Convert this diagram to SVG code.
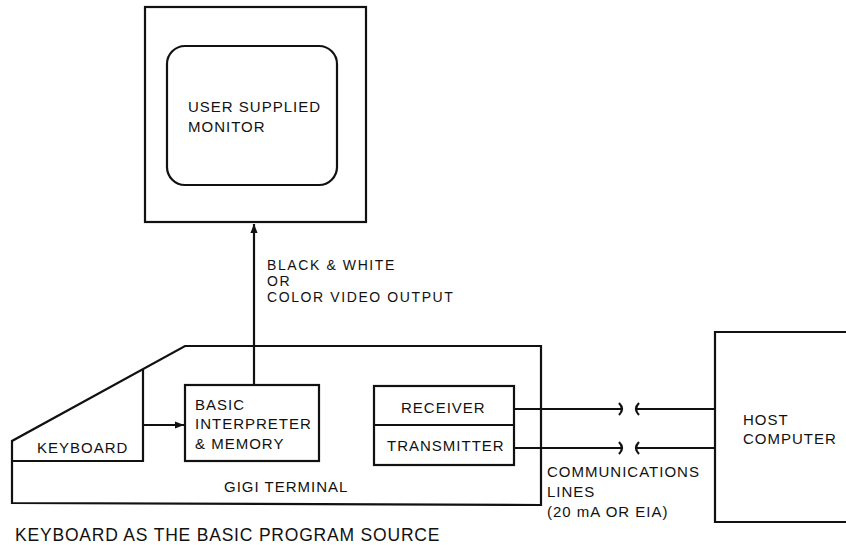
<svg xmlns="http://www.w3.org/2000/svg" width="846" height="545" viewBox="0 0 846 545">
<style>
.s{fill:none;stroke:#111;stroke-width:2.2;stroke-linejoin:miter}
.t{font-family:"Liberation Sans",Arial,sans-serif;font-size:15px;letter-spacing:1px;fill:#111}
.v{font-family:"Liberation Sans",Arial,sans-serif;font-size:14px;letter-spacing:1.6px;fill:#111}
.b{font-family:"Liberation Sans",Arial,sans-serif;font-size:17.5px;letter-spacing:0.8px;fill:#111}
</style>
<defs>
<marker id="ah" viewBox="0 0 10 10" refX="10" refY="5" markerWidth="9" markerHeight="9" markerUnits="userSpaceOnUse" orient="auto">
<path d="M0,1 L10,5 L0,9 Z" fill="#111"/>
</marker>
</defs>
<rect width="846" height="545" fill="#fff"/>
<g id="monitor">
<rect class="s" x="145" y="7" width="221" height="215"/>
<rect class="s" x="167" y="46" width="170" height="139" rx="18"/>
<text class="t" x="188" y="112">USER SUPPLIED</text>
<text class="t" x="188" y="132">MONITOR</text>
</g>
<g id="terminal">
<path class="s" d="M12,503 L12,441 L185,346 L541,346 L541,505 Z"/>
<text class="t" x="224" y="492">GIGI TERMINAL</text>
</g>
<g id="keyboard">
<path class="s" d="M143,369 L143,461 L12,461"/>
<text class="t" x="37" y="453">KEYBOARD</text>
</g>
<g id="basic">
<rect class="s" x="185" y="385" width="134" height="76"/>
<text class="t" x="195" y="410">BASIC</text>
<text class="t" x="195" y="429">INTERPRETER</text>
<text class="t" x="195" y="449">&amp; MEMORY</text>
</g>
<g id="rxtx">
<rect class="s" x="374" y="386" width="140" height="79"/>
<line class="s" x1="374" y1="425" x2="514" y2="425"/>
<text class="t" x="401" y="413">RECEIVER</text>
<text class="t" x="387" y="451">TRANSMITTER</text>
</g>
<g id="host">
<path class="s" d="M846,332 L715,332 L715,522 L846,522"/>
<text class="t" x="743" y="425">HOST</text>
<text class="t" x="743" y="444">COMPUTER</text>
</g>
<g id="connectors">
<line class="s" x1="254" y1="385" x2="254" y2="224" marker-end="url(#ah)"/>
<line class="s" x1="143" y1="425" x2="184" y2="425" marker-end="url(#ah)"/>
<path class="s" d="M514,409 L622,409 M619,403 Q625,409 619,415 M639,403 Q633,409 639,415 M635,409 L715,409"/>
<path class="s" d="M514,448 L622,448 M619,442 Q625,448 619,454 M639,442 Q633,448 639,454 M635,448 L715,448"/>
</g>
<g id="labels">
<text class="v" x="267" y="270">BLACK &amp; WHITE</text>
<text class="v" x="267" y="286">OR</text>
<text class="v" x="267" y="302">COLOR VIDEO  OUTPUT</text>
<text class="t" x="547" y="477">COMMUNICATIONS</text>
<text class="t" x="547" y="497">LINES</text>
<text class="t" x="547" y="517">(20 mA OR  EIA)</text>
<text class="b" x="15" y="541">KEYBOARD AS THE BASIC PROGRAM SOURCE</text>
</g>
</svg>
